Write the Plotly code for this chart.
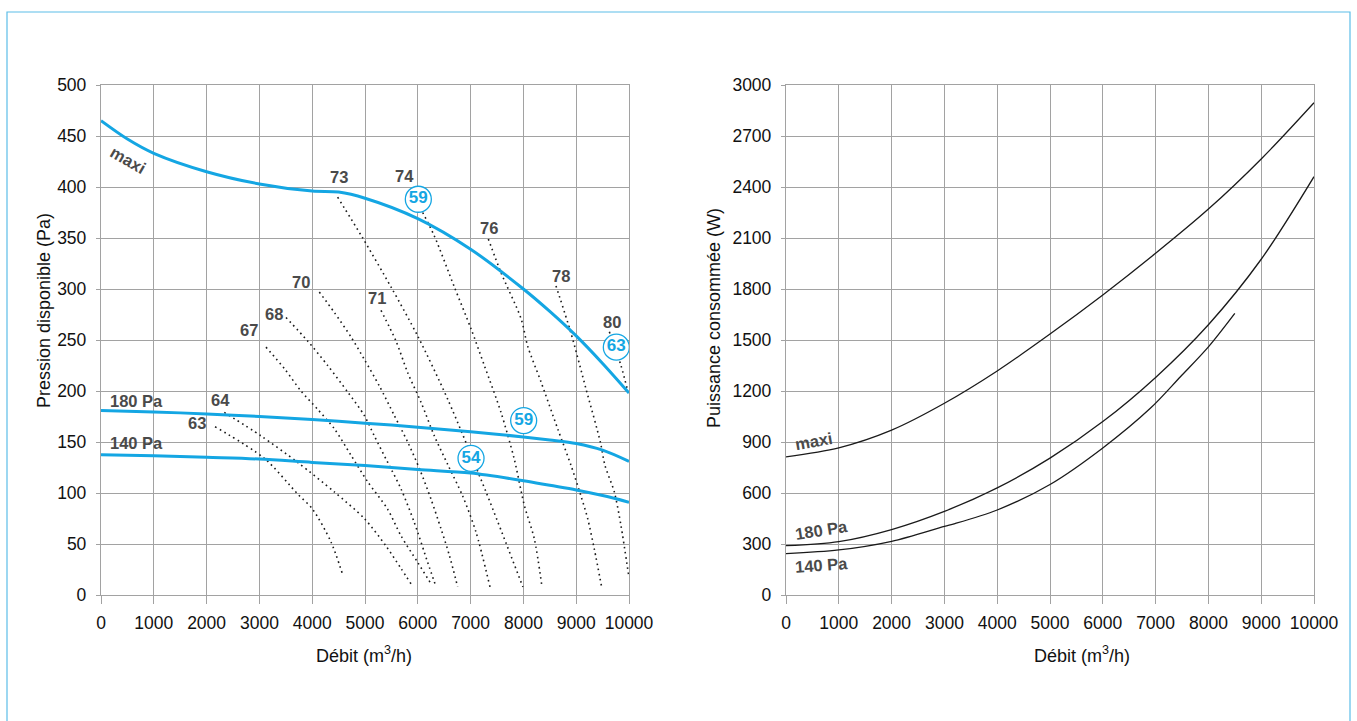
import plotly.graph_objects as go

BLUE = "#14a6e3"
GRID = "#a2a2a2"
LABEL = "#4a4a4a"
FONT = "Liberation Sans, Arial, Helvetica, sans-serif"

# ---------------- Pressure / flow (left panel) ----------------
flow_maxi = [0, 500, 1000, 2000, 3000, 4000, 4500, 5000, 6000, 7000, 8000, 8500, 9000, 9500, 10000]
pres_maxi = [465, 447, 433, 415, 403, 396, 395, 389, 369, 339, 300, 278, 254, 227, 198]

flow_reg = [0, 1000, 2000, 3000, 4000, 5000, 6000, 7000, 8000, 8500, 9000, 9500, 10000]
pres_180 = [181, 179.5, 177.5, 175, 172, 168.5, 164.5, 160, 155, 152, 148.5, 142, 131]
pres_140 = [137.5, 136.6, 135, 133.3, 130, 127, 123, 119.5, 112, 107.5, 103, 97.5, 91]

# iso sound-level curves, dB(A)
iso_63_x = [2160, 3093, 3725, 4009, 4356, 4577]
iso_63_y = [165, 134, 99, 84, 52, 20]
iso_64_x = [2335, 3030, 3725, 4419, 4987, 5398, 5682, 5871]
iso_64_y = [179, 156, 130, 101, 75, 48, 26, 11]
iso_67_x = [3125, 3472, 3788, 4104, 4419, 4735, 5051, 5430, 5682, 5998, 6250]
iso_67_y = [243, 222, 200, 182, 163, 137, 111, 84, 58, 32, 11]
iso_68_x = [3504, 3914, 4293, 4672, 4987, 5176, 5430, 5682, 5934, 6187, 6345]
iso_68_y = [272, 249, 225, 199, 176, 156, 130, 104, 71, 32, 8]
iso_70_x = [4135, 4419, 4735, 4987, 5271, 5555, 5808, 6030, 6250, 6439, 6597, 6755]
iso_70_y = [297, 277, 253, 231, 205, 176, 150, 124, 94, 65, 39, 8]
iso_71_x = [5303, 5587, 5808, 6061, 6313, 6566, 6850, 7100, 7367]
iso_71_y = [279, 249, 218, 189, 156, 128, 97, 62, 8]
iso_73_x = [4482, 4956, 5492, 5997, 6566, 7300, 7990]
iso_73_y = [390, 350, 302, 254, 192, 100, 8]
iso_74_x = [6092, 6313, 6692, 7008, 7260, 7576, 7828, 8017, 8207, 8352]
iso_74_y = [375, 352, 302, 261, 225, 179, 133, 88, 55, 8]
iso_76_x = [7336, 7576, 7955, 8081, 8333, 8649, 8902, 9091, 9217, 9343, 9489]
iso_76_y = [349, 316, 271, 244, 209, 163, 127, 97, 75, 45, 6]
iso_78_x = [8617, 8900, 9186, 9457, 9545, 9722, 9848, 10000]
iso_78_y = [303, 257, 202, 150, 127, 101, 68, 17]
iso_80_x = [9628, 9848, 10000]
iso_80_y = [258, 225, 195]

iso_labels = ["63", "64", "67", "68", "70", "71", "73", "74", "76", "78", "80"]
iso_label_x = [1818, 2254, 2794, 3273, 3782, 5221, 4514, 5754, 7339, 8705, 9669]
iso_label_y = [168.6, 191, 260, 275, 307, 291, 409.5, 411, 359.5, 313, 268]

# circled sound power values
circ_text = ["59", "63", "59", "54"]
circ_x = [6010, 9760, 8005, 7008]
circ_y = [388, 243, 171, 134]

# ---------------- Power / flow (right panel) ----------------
flow_pw = [0, 1000, 2000, 3000, 4000, 5000, 6000, 7000, 8000, 9000, 10000]
pw_maxi = [813, 866, 970, 1128, 1318, 1535, 1765, 2010, 2270, 2565, 2896]
pw_180 = [290, 314, 385, 492, 630, 805, 1020, 1280, 1590, 1975, 2461]
flow_pw_140 = [0, 1000, 2000, 3000, 3200, 4000, 5000, 6000, 6900, 7470, 8000, 8500]
pw_140 = [243, 265, 316, 404, 420, 500, 650, 865, 1098, 1284, 1460, 1657]

flow_ticks = list(range(0, 10001, 1000))
flow_ticktext = [str(v) for v in flow_ticks]

fig = go.Figure()

iso_curves = [
    (iso_63_x, iso_63_y), (iso_64_x, iso_64_y), (iso_67_x, iso_67_y),
    (iso_68_x, iso_68_y), (iso_70_x, iso_70_y), (iso_71_x, iso_71_y),
    (iso_73_x, iso_73_y), (iso_74_x, iso_74_y), (iso_76_x, iso_76_y),
    (iso_78_x, iso_78_y), (iso_80_x, iso_80_y),
]
for xs, ys in iso_curves:
    fig.add_trace(go.Scatter(
        x=xs, y=ys, mode="lines", xaxis="x", yaxis="y",
        line=dict(color="#1a1a1a", width=1.6, dash="1.6px,3.6px", shape="spline", smoothing=0.8),
        hoverinfo="skip", showlegend=False))

for xs, ys in [(flow_maxi, pres_maxi), (flow_reg, pres_180), (flow_reg, pres_140)]:
    fig.add_trace(go.Scatter(
        x=xs, y=ys, mode="lines", xaxis="x", yaxis="y",
        line=dict(color=BLUE, width=3, shape="spline", smoothing=0.9),
        hoverinfo="skip", showlegend=False))

fig.add_trace(go.Scatter(
    x=circ_x, y=circ_y, text=circ_text, mode="markers+text", xaxis="x", yaxis="y",
    marker=dict(symbol="circle", size=26, color="white", line=dict(color=BLUE, width=1.3)),
    textposition="middle center",
    textfont=dict(family=FONT, size=17, color=BLUE, weight="bold"),
    hoverinfo="skip", showlegend=False))

for xs, ys in [(flow_pw, pw_maxi), (flow_pw, pw_180), (flow_pw_140, pw_140)]:
    fig.add_trace(go.Scatter(
        x=xs, y=ys, mode="lines", xaxis="x2", yaxis="y2",
        line=dict(color="#1a1a1a", width=1.3, shape="spline", smoothing=0.9),
        hoverinfo="skip", showlegend=False))

annotations = []


def bold_label(text, x, y, xref, yref, angle=0):
    annotations.append(dict(
        text=text, x=x, y=y, xref=xref, yref=yref, showarrow=False, textangle=angle,
        xanchor="center", yanchor="middle",
        font=dict(family=FONT, size=16.5, color=LABEL, weight="bold")))


for t, x, y in zip(iso_labels, iso_label_x, iso_label_y):
    bold_label(t, x, y, "x", "y")
bold_label("maxi", 511, 426, "x", "y", 30)
bold_label("180 Pa", 663, 190, "x", "y")
bold_label("140 Pa", 663, 149, "x", "y")

bold_label("maxi", 531, 906, "x2", "y2", -10)
bold_label("180 Pa", 664, 382, "x2", "y2", -9)
bold_label("140 Pa", 664, 176, "x2", "y2", -4)

W, H = 1357, 721


def title(text, px, py, angle=0):
    annotations.append(dict(
        text=text, x=px / W, y=1 - py / H, xref="paper", yref="paper", showarrow=False,
        xanchor="center", yanchor="middle",
        textangle=angle, font=dict(family=FONT, size=18, color="#111111")))


title("Pression disponible (Pa)", 44, 311, -90)
title("Puissance consommée (W)", 714, 318, -90)
title("Débit (m<sup>3</sup>/h)", 364, 654)
title("Débit (m<sup>3</sup>/h)", 1082, 654)

axis_common = dict(
    showgrid=True, gridcolor=GRID, gridwidth=1.3,
    showline=True, linecolor=GRID, linewidth=1.3, mirror=True,
    zeroline=False, ticks="outside", tickcolor=GRID,
    tickfont=dict(family=FONT, size=17.5, color="#111111"),
    automargin=False, fixedrange=True,
)

y_dom = [126 / H, 636 / H]

fig.update_layout(
    width=W, height=H,
    margin=dict(l=0, r=0, t=0, b=0, pad=0, autoexpand=False),
    paper_bgcolor="white", plot_bgcolor="white",
    xaxis=dict(domain=[101 / W, 629 / W], range=[0, 10000], tickvals=flow_ticks,
               ticktext=flow_ticktext, ticklen=8, ticklabelstandoff=4, anchor="y",
               **axis_common),
    yaxis=dict(domain=y_dom, range=[0, 500], dtick=50, ticklen=4, anchor="x",
               ticklabelstandoff=6, **axis_common),
    xaxis2=dict(domain=[786 / W, 1314 / W], range=[0, 10000], tickvals=flow_ticks,
                ticktext=flow_ticktext, ticklen=8, ticklabelstandoff=4, anchor="y2",
                **axis_common),
    yaxis2=dict(domain=y_dom, range=[0, 3000], dtick=300, ticklen=4, anchor="x2",
                ticklabelstandoff=6, **axis_common),
    annotations=annotations,
    shapes=[dict(type="rect", xref="paper", yref="paper",
                 x0=7 / W, x1=1350 / W, y0=-3 / H, y1=1 - 12 / H,
                 line=dict(color="#5cbde8", width=1.2))],
    showlegend=False,
)

# page without default body margin so the figure sits at the window origin
page_css = (
    "var s=document.createElement('style');"
    "s.textContent='html,body{margin:0;padding:0;overflow:hidden;}';"
    "document.head.appendChild(s);"
)

fig.write_html(
    "out.html",
    config={"displayModeBar": False},
    post_script=page_css,
)
